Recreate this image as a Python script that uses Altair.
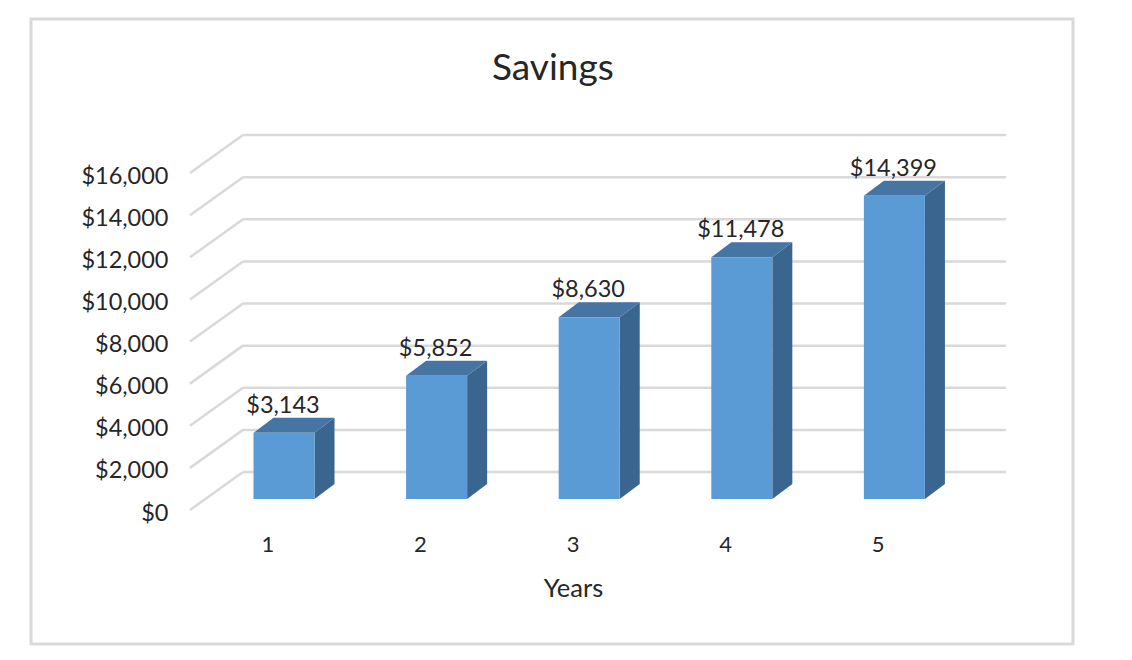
import altair as alt
import pandas as pd

years = [1, 2, 3, 4, 5]
savings = [3143, 5852, 8630, 11478, 14399]
y_ticks = [0, 2000, 4000, 6000, 8000, 10000, 12000, 14000, 16000]

FONT = "Lato"
TEXT = "#262626"
GRID = "#D9D9D9"
FRONT = "#5B9BD5"
TOP = "#4675A3"
SIDE = "#39658E"

PLOT_W, PLOT_H = 816, 375
PX_PER_YEAR = 152.6
PX_PER_UNIT = 0.02106
X_MIN = 0.5
X_MAX = X_MIN + PLOT_W / PX_PER_YEAR
Y_MAX = PLOT_H / PX_PER_UNIT

WALL_X = 53 / PX_PER_YEAR
WALL_Y = 38 / PX_PER_UNIT
BAR_DX = 20 / PX_PER_YEAR
BAR_DY = 15 / PX_PER_UNIT
BAR_LIFT = 11 / PX_PER_UNIT
BAR_SHIFT = 0.116
BAR_HALF = 0.2

xs = alt.Scale(domain=[X_MIN, X_MAX], nice=False, zero=False)
ys = alt.Scale(domain=[0, Y_MAX], nice=False, zero=False)

x_axis = alt.Axis(values=years, format="d", title="Years", domain=False, ticks=False, grid=False,
                  labelFont=FONT, labelFontSize=22, labelColor=TEXT, labelPadding=24, labelOffset=1,
                  titleFont=FONT, titleFontSize=25.5, titleFontWeight="normal", titleColor=TEXT,
                  titleX=383, titleY=86, titleAnchor="middle", titleAlign="center", titleBaseline="alphabetic",
                  labelFlush=False)
y_axis = alt.Axis(values=y_ticks, format="$,d", title=None, domain=False, ticks=False, grid=False,
                  labelFont=FONT, labelFontSize=23.5, labelColor=TEXT, labelPadding=22, labelOffset=3)


def X(f):
    return alt.X(f, scale=xs, axis=x_axis)


def Y(f):
    return alt.Y(f, scale=ys, axis=y_axis)


back = pd.DataFrame({"v": y_ticks})
back["x1"] = X_MIN + WALL_X
back["x2"] = X_MAX
back["yb"] = back["v"] + WALL_Y

diag_rows = []
for v in y_ticks:
    diag_rows.append({"v": v, "x": X_MIN, "y": v})
    diag_rows.append({"v": v, "x": X_MIN + WALL_X, "y": v + WALL_Y})
diag = pd.DataFrame(diag_rows)

bars = pd.DataFrame({"year": years, "value": savings})
bars["l"] = bars["year"] + BAR_SHIFT - BAR_HALF
bars["r"] = bars["year"] + BAR_SHIFT + BAR_HALF
bars["b"] = BAR_LIFT
bars["t"] = bars["value"] + BAR_LIFT
bars["cx"] = bars["year"] + BAR_SHIFT

side_rows = []
top_rows = []
for y, v in zip(years, savings):
    l = y + BAR_SHIFT - BAR_HALF
    r = y + BAR_SHIFT + BAR_HALF
    t = v + BAR_LIFT
    side_rows.append({"year": y, "x": r, "lo": BAR_LIFT, "hi": t})
    side_rows.append({"year": y, "x": r + BAR_DX, "lo": BAR_LIFT + BAR_DY, "hi": t + BAR_DY})
    top_rows.append({"year": y, "y": t, "xa": l, "xb": r})
    top_rows.append({"year": y, "y": t + BAR_DY, "xa": l + BAR_DX, "xb": r + BAR_DX})
side = pd.DataFrame(side_rows)
top = pd.DataFrame(top_rows)

frame = alt.Chart(bars.head(1)).mark_rect(fill=None, stroke=GRID, strokeWidth=3).encode(
    x=alt.value(31 - 190), x2=alt.value(1073 - 190),
    y=alt.value(19 - 135), y2=alt.value(644 - 135),
)

back_lines = alt.Chart(back).mark_rule(color=GRID, strokeWidth=2.5).encode(
    x=X("x1:Q"), x2="x2:Q", y=Y("yb:Q"),
)
diag_lines = alt.Chart(diag).mark_line(color=GRID, strokeWidth=2.5).encode(
    x=X("x:Q"), y=Y("y:Q"), detail="v:Q",
)
side_faces = alt.Chart(side).mark_area(color=SIDE, opacity=1).encode(
    x=X("x:Q"), y=Y("lo:Q"), y2="hi:Q", detail="year:O",
)
top_faces = alt.Chart(top).mark_area(color=TOP, opacity=1, orient="horizontal").encode(
    y=Y("y:Q"), x=X("xa:Q"), x2="xb:Q", detail="year:O",
)
front_faces = alt.Chart(bars).mark_rect(color=FRONT).encode(
    x=X("l:Q"), x2="r:Q", y=Y("b:Q"), y2="t:Q",
)
labels = alt.Chart(bars).mark_text(font=FONT, fontSize=23.5, color=TEXT, dy=-27, dx=-1).encode(
    x=X("cx:Q"), y=Y("t:Q"), text=alt.Text("value:Q", format="$,d"),
)

chart = alt.layer(
    frame, back_lines, diag_lines, side_faces, top_faces, front_faces, labels
).properties(
    width=PLOT_W, height=PLOT_H,
    title=alt.TitleParams("Savings", font=FONT, fontSize=37, fontWeight="normal", color=TEXT,
                          anchor="start", frame="group", dx=302, offset=-70),
    padding={"left": 182, "top": 127, "right": 100, "bottom": 138},
    autosize=alt.AutoSizeParams(type="none"),
    background="white",
).configure_view(stroke=None)

chart.save("out.html", embed_options={"renderer": "svg", "actions": False})
